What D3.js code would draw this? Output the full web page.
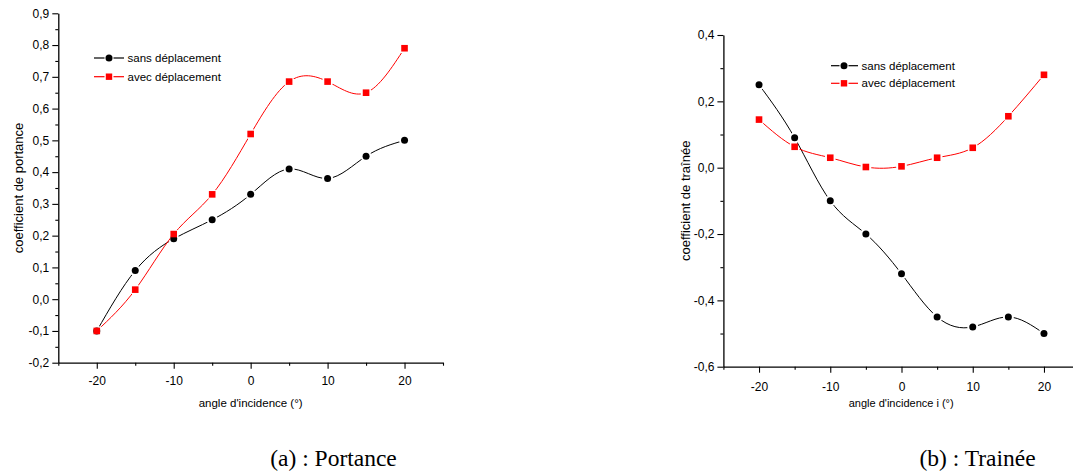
<!DOCTYPE html>
<html>
<head>
<meta charset="utf-8">
<script src="https://cdn.jsdelivr.net/npm/d3@7"></script>
<style>
  html, body { margin: 0; padding: 0; background: #fff; }
  svg { display: block; }
  text { font-family: "Liberation Sans", Arial, sans-serif; fill: #000; }
  .caption { font-family: "Liberation Serif", "Times New Roman", serif; }
</style>
</head>
<body>
<svg id="fig" width="1073" height="473"></svg>
<script>
// Angles of incidence (degrees)
const angles = [-20, -15, -10, -5, 0, 5, 10, 15, 20];

// Lift coefficient
const portanceSans = [-0.10, 0.09, 0.19, 0.25, 0.33, 0.41, 0.38, 0.45, 0.50];
const portanceAvec = [-0.10, 0.03, 0.205, 0.33, 0.52, 0.685, 0.685, 0.65, 0.79];

// Drag coefficient
const traineeSans = [0.25, 0.09, -0.10, -0.20, -0.32, -0.45, -0.48, -0.45, -0.50];
const traineeAvec = [0.145, 0.063, 0.03, 0.002, 0.004, 0.03, 0.06, 0.155, 0.28];

const seriesNames = ["sans déplacement", "avec déplacement"];

const svg = d3.select("#fig");
const defs = svg.append("defs");
const fmt = d => d3.format(".1f")(d).replace(".", ",").replace("−", "-");

function drawPanel(cfg) {
  const g = svg.append("g");
  const x = d3.scaleLinear().domain([-25, 25]).range(cfg.xRange);
  const y = d3.scaleLinear().domain(cfg.yDomain).range(cfg.yRange);

  // minor x ticks
  const xMinor = d3.range(-25, 26, 10);
  g.append("g")
    .attr("transform", `translate(0,${cfg.yRange[0]})`)
    .call(d3.axisBottom(x).tickValues(xMinor).tickSize(3).tickFormat(""))
    .call(a => a.select(".domain").remove());
  // major x axis
  g.append("g")
    .attr("transform", `translate(0,${cfg.yRange[0]})`)
    .call(d3.axisBottom(x).tickValues([-20, -10, 0, 10, 20]).tickSize(6)
      .tickPadding(cfg.xPad).tickFormat(d => String(d)).tickSizeOuter(0))
    .call(a => a.selectAll("text").style("font-size", "12px"));

  // minor y ticks
  g.append("g")
    .attr("transform", `translate(${cfg.xRange[0]},0)`)
    .call(d3.axisLeft(y).tickValues(cfg.yMinor).tickSize(3).tickFormat(""))
    .call(a => a.select(".domain").remove());
  // major y axis
  g.append("g")
    .attr("transform", `translate(${cfg.xRange[0]},0)`)
    .call(d3.axisLeft(y).tickValues(cfg.yMajor).tickSize(6).tickPadding(cfg.yPad)
      .tickFormat(fmt).tickSizeOuter(0))
    .call(a => a.selectAll("text").style("font-size", "12px"));

  g.selectAll(".domain").attr("stroke-width", 1.3);
  g.selectAll(".tick line").attr("stroke-width", 1.1);

  // axis titles
  g.append("text")
    .attr("x", (cfg.xRange[0] + Math.min(cfg.xRange[1], 1079)) / 2)
    .attr("y", cfg.xTitleY)
    .attr("text-anchor", "middle")
    .style("font-size", cfg.xTitleSize)
    .text(cfg.xTitle);
  g.append("text")
    .attr("transform", `translate(${cfg.yTitleX},${(cfg.yRange[0] + cfg.yRange[1]) / 2}) rotate(-90)`)
    .attr("text-anchor", "middle")
    .attr("dy", "0.35em")
    .style("font-size", "13px")
    .text(cfg.yTitle);

  const line = d3.line().x(d => x(d[0])).y(d => y(d[1])).curve(d3.curveNatural);
  const colors = ["#000000", "#ff0000"];

  cfg.series.forEach((vals, i) => {
    const pts = angles.map((a, k) => [a, vals[k]]);
    const id = `gap-${cfg.id}-${i}`;
    const m = defs.append("mask").attr("id", id).attr("maskUnits", "userSpaceOnUse")
      .attr("x", 0).attr("y", 0).attr("width", 1073).attr("height", 473);
    m.append("rect").attr("width", 1073).attr("height", 473).attr("fill", "#fff");
    m.selectAll("circle").data(pts).join("circle")
      .attr("cx", d => x(d[0])).attr("cy", d => y(d[1])).attr("r", 5.5).attr("fill", "#000");

    g.append("path")
      .attr("d", line(pts))
      .attr("fill", "none")
      .attr("stroke", colors[i])
      .attr("stroke-width", 1)
      .attr("mask", `url(#${id})`);

    if (i === 0) {
      g.selectAll(null).data(pts).join("circle")
        .attr("cx", d => x(d[0])).attr("cy", d => y(d[1])).attr("r", 3.5)
        .attr("fill", "#000");
    } else {
      g.selectAll(null).data(pts).join("rect")
        .attr("x", d => x(d[0]) - 3.3).attr("y", d => y(d[1]) - 3.3)
        .attr("width", 6.6).attr("height", 6.6)
        .attr("fill", "#ff0000");
    }
  });

  // legend
  cfg.legendRows.forEach((ly, i) => {
    const lx0 = cfg.legendX[0], lxm = cfg.legendX[1], lx1 = cfg.legendX[2];
    const lg = g.append("g");
    lg.append("line").attr("x1", lx0).attr("x2", lxm - 4.5).attr("y1", ly).attr("y2", ly)
      .attr("stroke", colors[i]).attr("stroke-width", 1.2);
    lg.append("line").attr("x1", lxm + 4.5).attr("x2", lx1).attr("y1", ly).attr("y2", ly)
      .attr("stroke", colors[i]).attr("stroke-width", 1.2);
    if (i === 0) {
      lg.append("circle").attr("cx", lxm).attr("cy", ly).attr("r", 3.5).attr("fill", "#000");
    } else {
      lg.append("rect").attr("x", lxm - 3.2).attr("y", ly - 3.2)
        .attr("width", 6.4).attr("height", 6.4).attr("fill", "#ff0000");
    }
    lg.append("text").attr("x", lx1 + 3.5).attr("y", ly).attr("dy", "0.35em")
      .style("font-size", "11.5px").text(seriesNames[i]);
  });

  // caption
  svg.append("text").attr("class", "caption")
    .attr("x", cfg.captionX).attr("y", 466)
    .attr("text-anchor", "middle")
    .style("font-size", "23.5px")
    .text(cfg.caption);
}

drawPanel({
  id: "a",
  xRange: [58.3, 443],
  yDomain: [-0.2, 0.9],
  yRange: [362.7, 13.3],
  yMajor: d3.range(-2, 10).map(v => v / 10),
  yMinor: d3.range(-2, 9).map(v => v / 10 + 0.05),
  xPad: 8,
  yPad: 3,
  xTitle: "angle d'incidence (°)",
  xTitleSize: "11.5px",
  xTitleY: 407,
  yTitle: "coefficient de portance",
  yTitleX: 18,
  series: [portanceSans, portanceAvec],
  legendX: [94, 109, 124],
  legendRows: [58, 76.7],
  caption: "(a) : Portance",
  captionX: 333.5
});

drawPanel({
  id: "b",
  xRange: [723.4, 1079.6],
  yDomain: [-0.6, 0.4],
  yRange: [366.7, 35],
  yMajor: d3.range(-3, 3).map(v => v / 5),
  yMinor: d3.range(-5, 5, 2).map(v => v / 10),
  xPad: 10,
  yPad: 3,
  xTitle: "angle d'incidence i (°)",
  xTitleSize: "11px",
  xTitleY: 407,
  yTitle: "coefficient de traînée",
  yTitleX: 685,
  series: [traineeSans, traineeAvec],
  legendX: [831, 844, 858],
  legendRows: [65.7, 83.3],
  caption: "(b) : Trainée",
  captionX: 977.5
});
</script>
</body>
</html>
